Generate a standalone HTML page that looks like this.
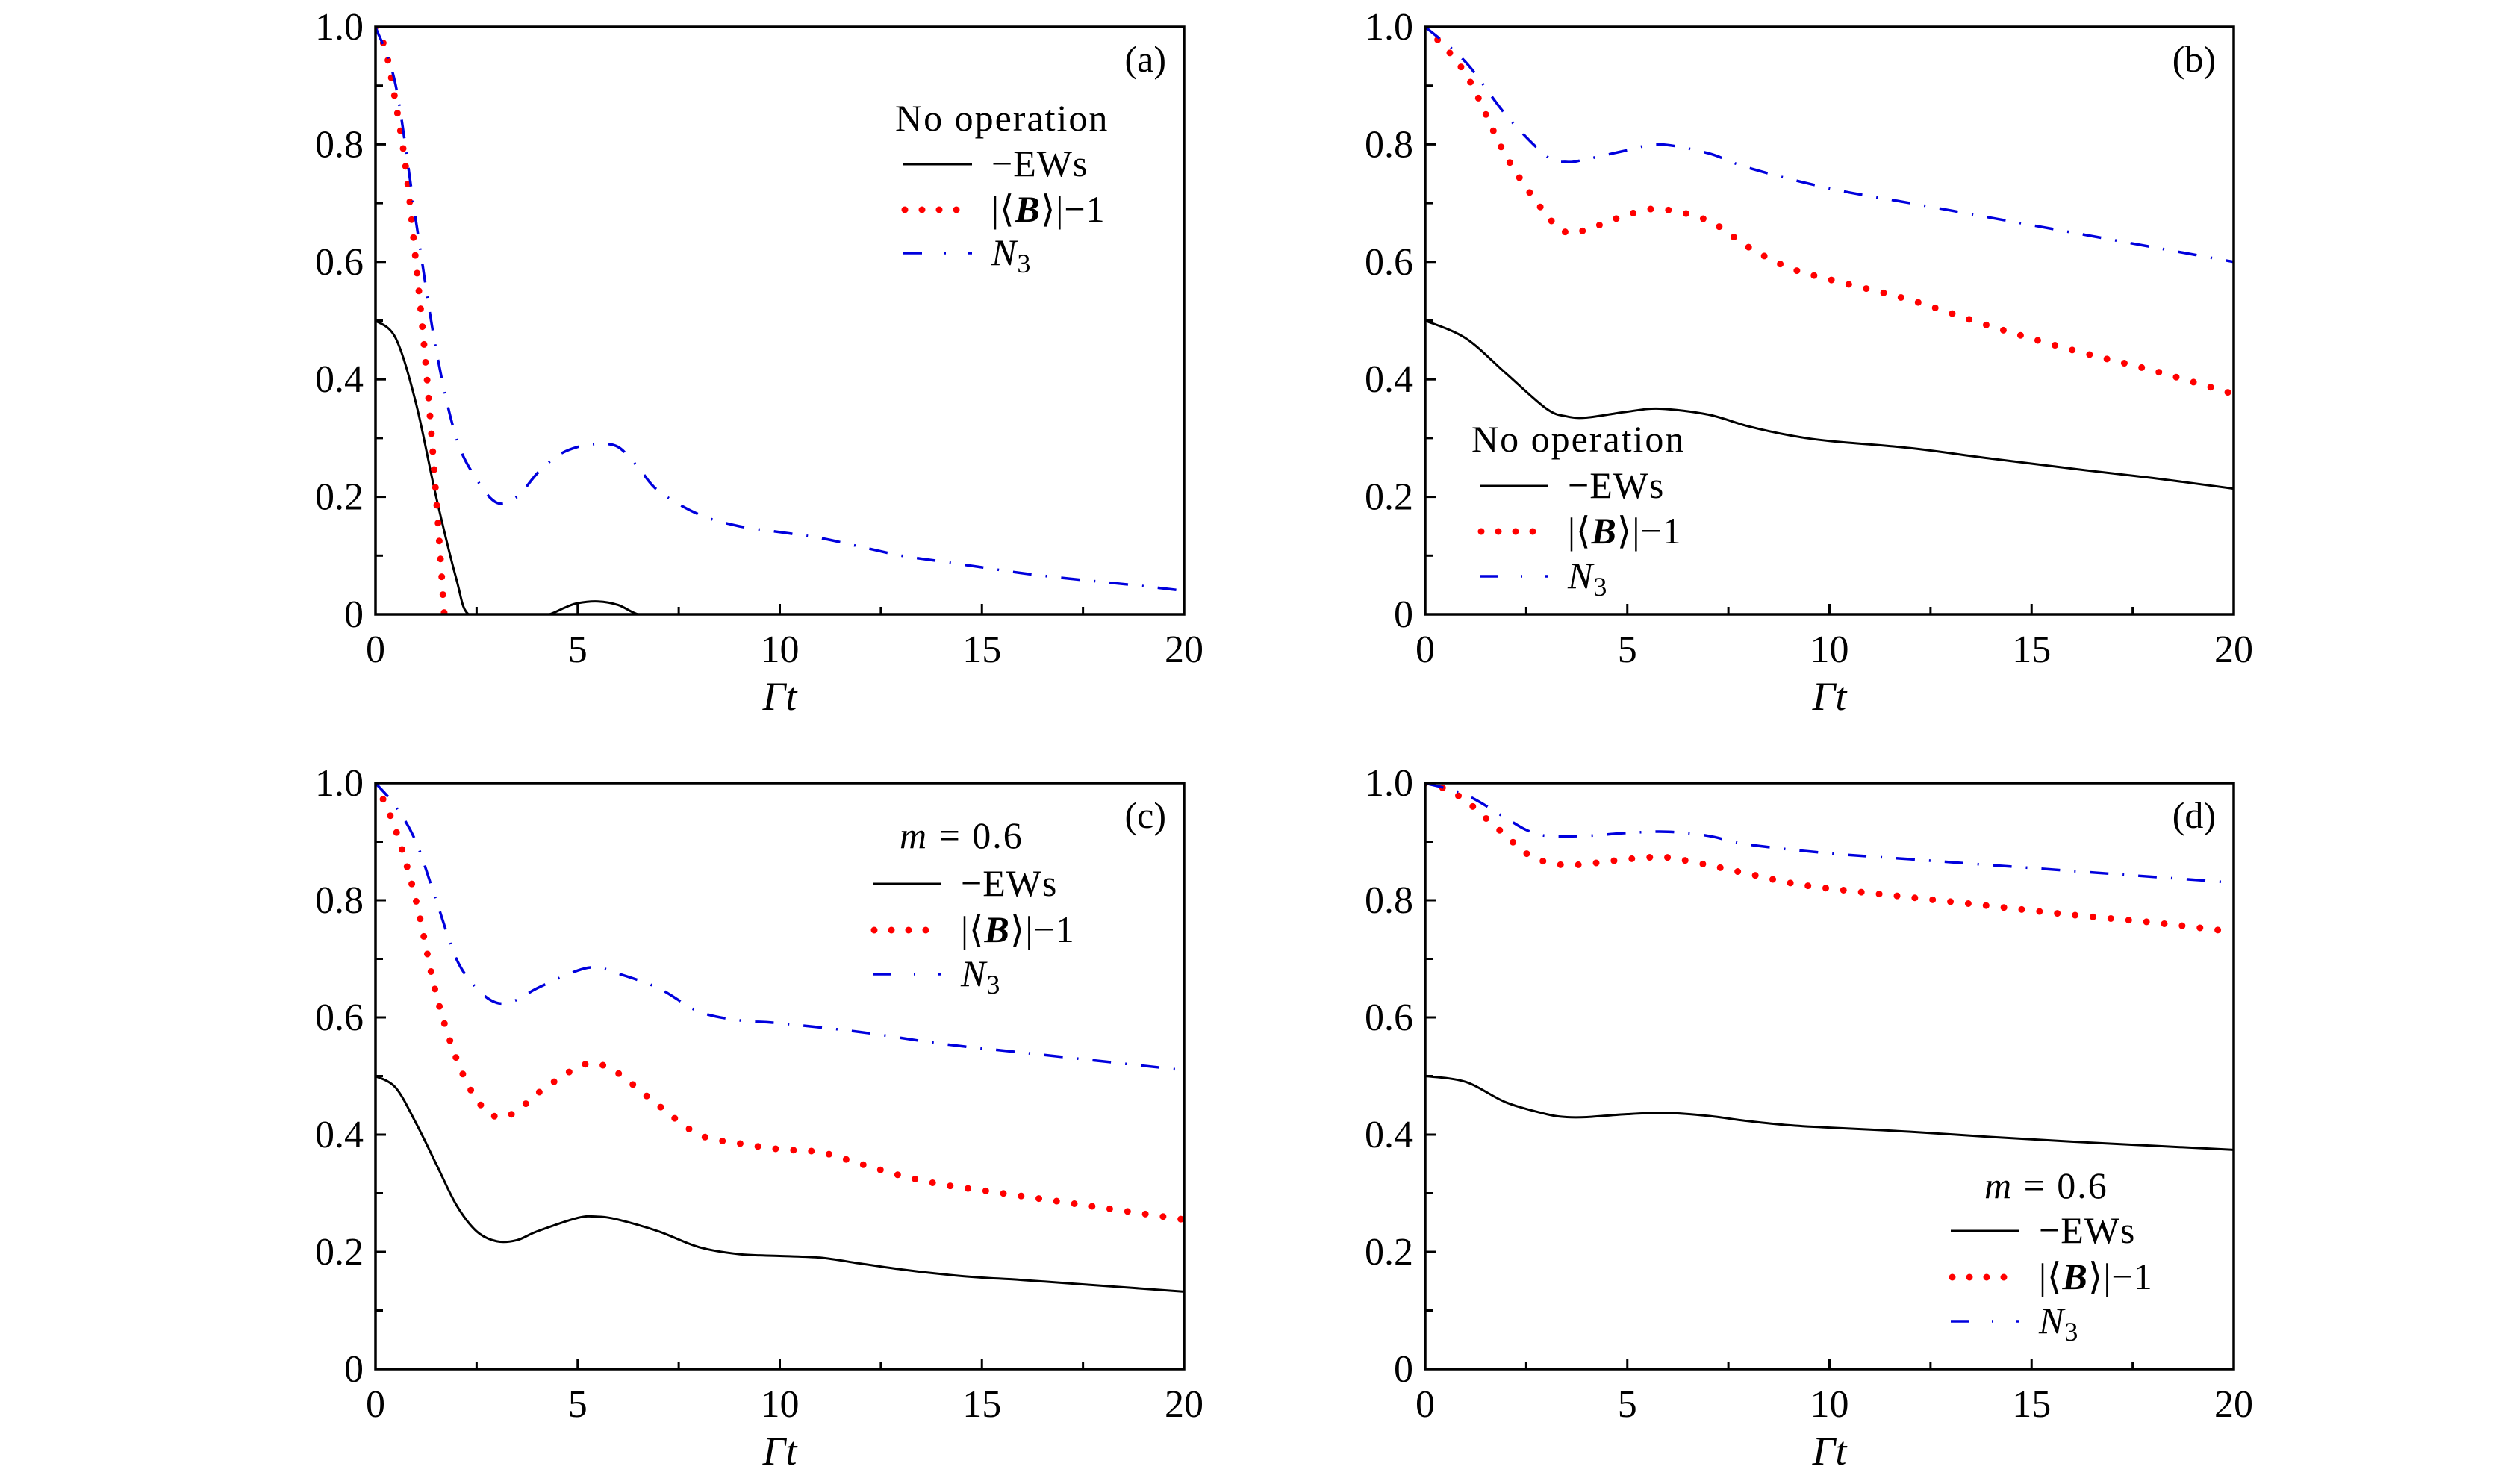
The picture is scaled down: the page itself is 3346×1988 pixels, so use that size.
<!DOCTYPE html>
<html><head><meta charset="utf-8">
<style>
html,body{margin:0;padding:0;background:#fff;}
svg{display:block;}
text{font-family:"Liberation Serif",serif;fill:#000;}
</style></head>
<body>
<svg id="fig" width="3346" height="1988" viewBox="0 0 3346 1988" xmlns="http://www.w3.org/2000/svg"></svg>
<script>
// ---- data (x = Γt, y = value) ----
const aEWsX=[0,0.5,1,1.5,2,2.3,3,4,4.3,4.7,5,5.5,6,6.5,7,10,15,20];
const aEWsY=[0.5,0.47,0.36,0.2,0.06,0,0,0,0,0.012,0.019,0.022,0.016,0,0,0,0,0];
const aBX=[0,0.25,0.5,0.75,1,1.25,1.5,1.7];
const aBY=[1,0.96,0.87,0.76,0.6,0.42,0.2,0.0];
const aNX=[0,0.5,1,1.5,2,2.5,3,3.5,4,4.5,5,5.5,6,6.5,7,8,9,10,11,12,13,14,15,16,17,18,19,20];
const aNY=[1,0.9,0.67,0.45,0.3,0.23,0.19,0.2,0.24,0.27,0.285,0.29,0.285,0.25,0.21,0.17,0.15,0.14,0.13,0.115,0.1,0.09,0.08,0.07,0.062,0.055,0.048,0.04];

const bEWsX=[0,1,2,3,3.5,4,5,5.8,7,8,9,10,12,14,16,18,20];
const bEWsY=[0.5,0.47,0.41,0.35,0.337,0.335,0.345,0.35,0.34,0.32,0.305,0.295,0.283,0.265,0.248,0.232,0.214];
const bBX=[0,1,2,3,3.5,4,5,5.8,7,8,9,10,12,14,16,18,20];
const bBY=[1,0.92,0.78,0.68,0.65,0.655,0.68,0.69,0.67,0.625,0.59,0.57,0.535,0.49,0.45,0.415,0.375];
const bNX=[0,1,2,3,3.5,4,5,5.8,7,8,10,12,14,16,18,20];
const bNY=[1,0.94,0.85,0.78,0.77,0.775,0.79,0.8,0.785,0.76,0.725,0.7,0.675,0.65,0.625,0.6];

const cEWsX=[0,0.5,1,1.5,2,2.5,3,3.5,4,5,5.5,6,7,8,9,10,11,12,13,14,15,16,18,20];
const cEWsY=[0.5,0.48,0.42,0.35,0.28,0.235,0.218,0.22,0.235,0.258,0.26,0.255,0.235,0.208,0.196,0.193,0.19,0.18,0.17,0.162,0.156,0.152,0.142,0.132];
const cBX=[0,0.5,1,1.5,2,2.5,3,3.5,4,5,5.5,6,7,8,9,10,11,12,13,14,15,16,18,20];
const cBY=[1,0.92,0.8,0.64,0.53,0.46,0.43,0.44,0.47,0.515,0.52,0.505,0.45,0.4,0.385,0.375,0.37,0.35,0.33,0.315,0.305,0.295,0.275,0.255];
const cNX=[0,0.5,1,1.5,2,2.5,3,3.5,4,5,5.5,6,7,8,9,10,12,14,16,18,20];
const cNY=[1,0.96,0.9,0.8,0.7,0.65,0.625,0.63,0.65,0.68,0.685,0.675,0.65,0.61,0.595,0.59,0.575,0.555,0.54,0.525,0.51];

const dEWsX=[0,1,2,3,3.5,4,5,6,7,8,9,10,12,14,16,18,20];
const dEWsY=[0.5,0.49,0.455,0.435,0.43,0.43,0.435,0.437,0.432,0.423,0.416,0.412,0.405,0.396,0.388,0.381,0.374];
const dBX=[0,0.5,1,1.5,2,2.5,3,3.5,4,5,5.5,6,7,8,9,10,12,14,16,18,20];
const dBY=[1,0.99,0.97,0.94,0.91,0.88,0.865,0.86,0.862,0.87,0.873,0.873,0.86,0.845,0.83,0.82,0.805,0.79,0.775,0.762,0.746];
const dNX=[0,1,2,2.5,3,4,5,6,7,8,10,12,14,16,18,20];
const dNY=[1,0.98,0.94,0.92,0.91,0.91,0.915,0.917,0.91,0.895,0.88,0.87,0.86,0.85,0.84,0.83];

const xTicks=[0,5,10,15,20];
const xTickLabels=["0","5","10","15","20"];
const yTicks=[0,0.2,0.4,0.6,0.8,1.0];
const yTickLabels=["0","0.2","0.4","0.6","0.8","1.0"];

const NS="http://www.w3.org/2000/svg";
const svg=document.getElementById('fig');
function mk(tag,attrs,parent){const e=document.createElementNS(NS,tag);for(const k in attrs)e.setAttribute(k,attrs[k]);(parent||svg).appendChild(e);return e;}

const panels=[
 {id:'a',x0:503,x1:1586,y0:823,y1:36,series:[[aEWsX,aEWsY],[aBX,aBY],[aNX,aNY]],
  title:'No operation',tx:1199,ty:175,lx:1210,rows:[220,281,339]},
 {id:'b',x0:1909,x1:2992,y0:823,y1:36,series:[[bEWsX,bEWsY],[bBX,bBY],[bNX,bNY]],
  title:'No operation',tx:1971,ty:605,lx:1982,rows:[651,712,772]},
 {id:'c',x0:503,x1:1586,y0:1834,y1:1049,series:[[cEWsX,cEWsY],[cBX,cBY],[cNX,cNY]],
  title:'m = 0.6',tx:1205,ty:1136,lx:1169,rows:[1184,1246,1305]},
 {id:'d',x0:1909,x1:2992,y0:1834,y1:1049,series:[[dEWsX,dEWsY],[dBX,dBY],[dNX,dNY]],
  title:'m = 0.6',tx:2658,ty:1605,lx:2613,rows:[1649,1711,1770]}
];
const styles=[
 {stroke:'#000','stroke-width':3,fill:'none'},
 {stroke:'#f00','stroke-width':9,fill:'none','stroke-dasharray':'0 24','stroke-linecap':'round'},
 {stroke:'#0000dd','stroke-width':3.5,fill:'none','stroke-dasharray':'25 19 2 19'}
];
const names=['ews-line','bell-line','n3-line'];

function smooth(pts){
  let d='M'+pts[0][0].toFixed(1)+','+pts[0][1].toFixed(1);
  for(let i=0;i<pts.length-1;i++){
    const p0=pts[Math.max(0,i-1)],p1=pts[i],p2=pts[i+1],p3=pts[Math.min(pts.length-1,i+2)];
    const c1=[p1[0]+(p2[0]-p0[0])/6,p1[1]+(p2[1]-p0[1])/6];
    const c2=[p2[0]-(p3[0]-p1[0])/6,p2[1]-(p3[1]-p1[1])/6];
    d+=' C'+c1[0].toFixed(1)+','+c1[1].toFixed(1)+' '+c2[0].toFixed(1)+','+c2[1].toFixed(1)+' '+p2[0].toFixed(1)+','+p2[1].toFixed(1);
  }
  return d;
}

panels.forEach(p=>{
  const g=mk('g',{});
  
  
  const X=v=>p.x0+(p.x1-p.x0)*v/20;
  const Y=v=>p.y0+(p.y1-p.y0)*Math.max(0,v);
  const clip=mk('clipPath',{id:'clip'+p.id},g);
  mk('rect',{x:p.x0,y:p.y1,width:p.x1-p.x0,height:p.y0-p.y1},clip);
  p.series.forEach((s,i)=>{
    const pts=s[0].map((x,k)=>[X(x),Y(s[1][k])]);
    const path=mk('path',Object.assign({d:smooth(pts),'clip-path':'url(#clip'+p.id+')'},styles[i]),g);
    
    
  });
  const fr=mk('rect',{x:p.x0,y:p.y1,width:p.x1-p.x0,height:p.y0-p.y1,fill:'none',stroke:'#000','stroke-width':3.5},g);
  
  
  for(let v=0;v<=20;v+=2.5){
    const major=v%5===0;
    mk('line',{x1:X(v),x2:X(v),y1:p.y0,y2:p.y0-(major?14:10),stroke:'#000','stroke-width':3},g);
  }
  xTicks.forEach((v,i)=>{
    const t=mk('text',{x:X(v),y:p.y0+64,'font-size':52,'text-anchor':'middle'},g);
    t.textContent=xTickLabels[i];
    
    
  });
  for(let k=0;k<=10;k++){
    const v=k/10;
    mk('line',{x1:p.x0,x2:p.x0+(k%2===0?14:10),y1:Y(v),y2:Y(v),stroke:'#000','stroke-width':3},g);
  }
  yTicks.forEach((v,i)=>{
    const t=mk('text',{x:p.x0-16,y:Y(v)+17,'font-size':52,'text-anchor':'end'},g);
    t.textContent=yTickLabels[i];
    
    
  });
  const xt=mk('text',{x:(p.x0+p.x1)/2,y:p.y0+128,'font-size':54,'font-style':'italic','text-anchor':'middle'},g);
  xt.textContent='Γt';
  
  
  const pl=mk('text',{x:p.x1-24,y:p.y1+60,'font-size':50,'text-anchor':'end'},g);
  pl.textContent='('+p.id+')';
  
  
  const lg=mk('g',{},g);
  
  
  const tt=mk('text',{x:p.tx,y:p.ty,'font-size':50,'letter-spacing':2},lg);
  if(p.title==='m = 0.6'){
    tt.innerHTML='<tspan font-style="italic">m</tspan> = 0.6';
  } else tt.textContent=p.title;
  
  
  const labs=['−EWs','|⟨<tspan font-weight="bold" font-style="italic">B</tspan>⟩|−1','<tspan font-style="italic">N</tspan><tspan font-size="36" dy="10">3</tspan>'];
  p.rows.forEach((ry,i)=>{
    const st=Object.assign({x1:p.lx,x2:p.lx+92,y1:ry,y2:ry},styles[i]);
    if(i===1){st.x1=p.lx+2;st['stroke-dasharray']='0 23';}
    if(i===2){st['stroke-dasharray']='25 30 2 30';}
    const ln=mk('line',st,lg);
    
    
    const tx=mk('text',{x:p.lx+118,y:ry+16,'font-size':50,'letter-spacing':1},lg);
    tx.innerHTML=labs[i];
    
    
  });
});
</script>
</body></html>
